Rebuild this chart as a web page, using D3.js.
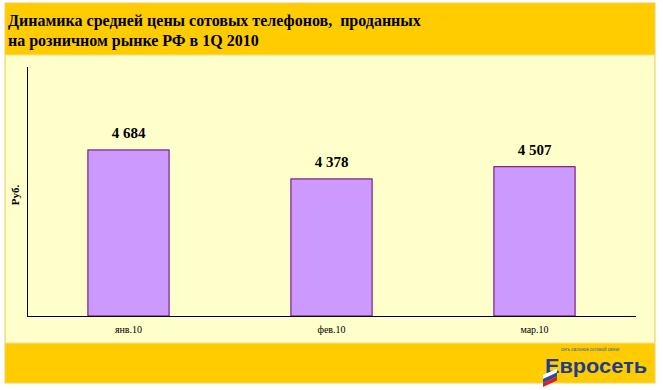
<!DOCTYPE html>
<html>
<head>
<meta charset="utf-8">
<script src="https://cdn.jsdelivr.net/npm/d3@7"></script>
<style>
body { margin: 0; background: #fff; }
svg { display: block; }
.title { white-space: pre; }
</style>
</head>
<body>
<div class="chart"></div>
<script>
var categories = ["янв.10", "фев.10", "мар.10"];
var values = [4684, 4378, 4507];
var valueLabels = ["4 684", "4 378", "4 507"];
var titleLines = ["Динамика средней цены сотовых телефонов,  проданных", "на розничном рынке РФ в 1Q 2010"];

var width = 663, height = 390;
var serif = "Liberation Serif, Times New Roman, serif";

var svg = d3.select(".chart").append("svg")
    .attr("width", width).attr("height", height);

// panel
svg.append("rect").attr("x", 5).attr("y", 3).attr("width", 650).attr("height", 380)
    .attr("fill", "#FFCC00").attr("stroke", "#F0D060").attr("stroke-width", 1);
svg.append("rect").attr("x", 5.5).attr("y", 55).attr("width", 649).attr("height", 288)
    .attr("fill", "#FFFFCC").attr("stroke", "#F5E08A").attr("stroke-width", 1);

svg.append("g").selectAll("text")
    .data(titleLines)
    .enter().append("text")
    .attr("class", "title")
    .attr("x", 8)
    .attr("y", (d, i) => 26 + i * 20)
    .attr("font-family", serif)
    .attr("font-weight", "bold")
    .attr("font-size", 16)
    .attr("fill", "#000")
    .text(d => d);

var margin = { left: 27, right: 636, top: 67, bottom: 316 };

var x = d3.scaleBand().domain(categories)
    .range([margin.left, margin.right])
    .paddingInner(0.6).paddingOuter(0.3);

var y = d3.scaleLinear().domain([2930, 5560]).range([margin.bottom, margin.top]);

var data = categories.map((c, i) => ({ cat: c, value: values[i], label: valueLabels[i] }));

svg.append("g").selectAll("rect")
    .data(data)
    .enter().append("rect")
    .attr("x", d => x(d.cat))
    .attr("y", d => y(d.value))
    .attr("width", x.bandwidth())
    .attr("height", d => margin.bottom - y(d.value))
    .attr("fill", "#CC99FF")
    .attr("stroke", "#660066")
    .attr("stroke-width", 1);

svg.append("g").selectAll("text")
    .data(data)
    .enter().append("text")
    .attr("x", d => x(d.cat) + x.bandwidth() / 2)
    .attr("y", d => y(d.value) - 12)
    .attr("text-anchor", "middle")
    .attr("font-family", serif)
    .attr("font-weight", "bold")
    .attr("font-size", 15)
    .text(d => d.label);

// axes
var xAxis = svg.append("g")
    .attr("transform", "translate(0," + margin.bottom + ")")
    .call(d3.axisBottom(x).tickSize(0).tickPadding(10));
xAxis.select(".domain").attr("d", "M" + margin.left + ",0.5H" + margin.right).attr("stroke", "#000");
xAxis.selectAll("text").attr("font-family", serif).attr("font-size", 10).attr("fill", "#000");

var yAxis = svg.append("g")
    .attr("transform", "translate(" + margin.left + ",0)")
    .call(d3.axisLeft(y).tickValues([]).tickSize(0));
yAxis.select(".domain").attr("d", "M0.5," + margin.top + "V" + margin.bottom).attr("stroke", "#000");

svg.append("text")
    .attr("transform", "translate(19,195) rotate(-90)")
    .attr("text-anchor", "middle")
    .attr("font-family", serif)
    .attr("font-weight", "bold")
    .attr("font-size", 11)
    .text("Руб.");

// logo
var logo = svg.append("g").attr("transform", "translate(543,348)");
logo.append("text").attr("x", 18).attr("y", 3)
    .attr("font-family", "Liberation Sans, Arial, sans-serif")
    .attr("font-size", 4.5).attr("fill", "#3a5aa0")
    .text("сеть салонов сотовой связи");
logo.append("text").attr("x", 2).attr("y", 25)
    .attr("font-family", "Liberation Sans, Arial, sans-serif")
    .attr("font-weight", "bold")
    .attr("font-size", 21).attr("fill", "#1f3c88")
    .attr("textLength", 102).attr("lengthAdjust", "spacingAndGlyphs")
    .text("Евросеть");
var flag = logo.append("g").attr("transform", "translate(0,27) skewY(-25)");
["#ffffff", "#2a4aa8", "#d8202a"].forEach((c, i) => {
    flag.append("rect").attr("x", 0).attr("y", i * 4).attr("width", 14).attr("height", 4).attr("fill", c);
});
</script>
</body>
</html>
